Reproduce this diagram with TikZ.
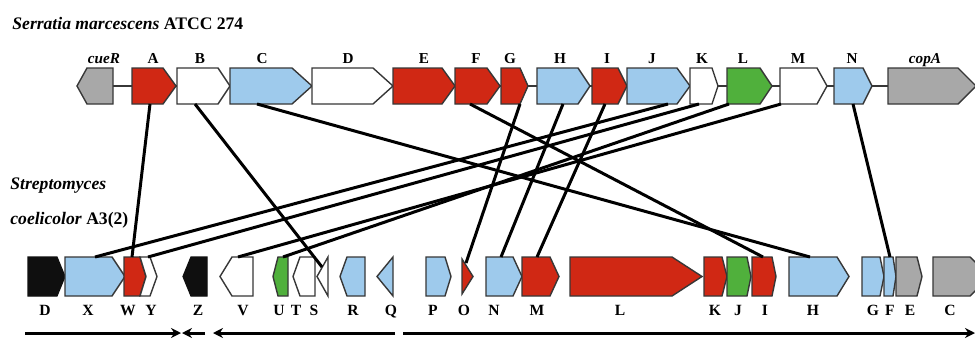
\documentclass[tikz,border=0pt]{standalone}
\usepackage{fontspec}
\setmainfont{Liberation Serif}
\usetikzlibrary{arrows.meta}
\definecolor{gred}{RGB}{208,40,20}
\definecolor{gblue}{RGB}{158,202,236}
\definecolor{ggreen}{RGB}{80,176,60}
\definecolor{ggray}{RGB}{168,168,168}
\definecolor{gblack}{RGB}{15,15,15}
\definecolor{gedge}{RGB}{55,55,55}
\tikzset{
  genebox/.style={draw=gedge, line width=0.7pt, line join=miter},
  link/.style={line width=1.5pt, draw=black},
  backbone/.style={draw=gedge, line width=0.6pt},
  glabel/.style={font=\fontsize{7.6}{9}\selectfont\bfseries, inner sep=0pt, text height=5.1pt, text depth=0pt},
  blabel/.style={font=\fontsize{7.8}{9}\selectfont\bfseries, inner sep=0pt, text height=5.2pt, text depth=0pt},
  title/.style={font=\fontsize{8.8}{10}\selectfont\bfseries, inner sep=0pt, anchor=west},
  dirarrow/.style={line width=1.5pt, draw=black, -{Stealth[length=5pt,width=5pt]}},
}
% right-pointing gene: x1, shoulder, tip, ytop, ybot, fill
\newcommand\geneR[6]{\filldraw[genebox,fill=#6] (#1,#4) -- (#2,#4) -- (#3,{(#4+#5)/2}) -- (#2,#5) -- (#1,#5) -- cycle;}
% left-pointing gene: tip, shoulder, x2, ytop, ybot, fill
\newcommand\geneL[6]{\filldraw[genebox,fill=#6] (#1,{(#4+#5)/2}) -- (#2,#4) -- (#3,#4) -- (#3,#5) -- (#2,#5) -- cycle;}
\begin{document}
\begin{tikzpicture}[x=0.5pt,y=-0.5pt]
\clip (0,0) rectangle (975,338);
\fill[white] (0,0) rectangle (975,338);

% titles
\node[title] (t1) at (12,23) {\textit{Serratia marcescens} ATCC 274};
\node[title] (t2) at (10,186) {\textit{Streptomyces}};
\node[title] (t3) at (10,220) {\textit{coelicolor} A3(2)};

% ---------- top row ----------
\draw[backbone] (113,86) -- (888,86);
\geneL{77}{87}{113}{68}{104}{ggray}
\geneR{132}{163}{176}{68}{104}{gred}
\geneR{177}{218}{230}{68}{104}{white}
\geneR{230}{292}{312}{68}{104}{gblue}
\geneR{312}{373}{393}{68}{104}{white}
\geneR{393}{442}{455}{68}{104}{gred}
\geneR{455}{487}{500}{68}{104}{gred}
\geneR{501}{520}{528}{68}{104}{gred}
\geneR{537}{578}{590}{68}{104}{gblue}
\geneR{592}{618}{627}{68}{104}{gred}
\geneR{627}{677}{690}{68}{104}{gblue}
\geneR{690}{712}{718}{68}{104}{white}
\geneR{727}{760}{772}{68}{104}{ggreen}
\geneR{780}{817}{827}{68}{104}{white}
\geneR{834}{863}{872}{68}{104}{gblue}
\geneR{888}{958}{976}{68}{104}{ggray}

\node[glabel] (lcueR) at (104,58) {\textit{cueR}};
\node[glabel] (lA) at (153,58) {A};
\node[glabel] (lB) at (200,58) {B};
\node[glabel] (lC) at (262,58) {C};
\node[glabel] (lD) at (348,58) {D};
\node[glabel] (lE) at (424,58) {E};
\node[glabel] (lF) at (476,58) {F};
\node[glabel] (lG) at (510,58) {G};
\node[glabel] (lH) at (560,58) {H};
\node[glabel] (lI) at (607,58) {I};
\node[glabel] (lJ) at (652,58) {J};
\node[glabel] (lK) at (702,58) {K};
\node[glabel] (lL) at (743,58) {L};
\node[glabel] (lM) at (798,58) {M};
\node[glabel] (lN) at (852,58) {N};
\node[glabel] (lcopA) at (925,58) {\textit{copA}};

% ---------- bottom row ----------
\filldraw[draw=gblack, fill=gblack, line width=0.6pt] (28,257) -- (57,257) -- (65,276.5) -- (57,296) -- (28,296) -- cycle;
\geneR{65}{112}{125}{257}{296}{gblue}
\geneR{124}{140}{146}{257}{296}{gred}
\filldraw[genebox,fill=white] (140,257) -- (150,257) -- (157,276.5) -- (150,296) -- (140,296) -- (146,276.5) -- cycle;
\filldraw[draw=gblack, fill=gblack, line width=0.6pt] (183,276.5) -- (191,257) -- (207,257) -- (207,296) -- (191,296) -- cycle;
\geneL{220}{232}{253}{257}{296}{white}
\geneL{273}{278}{288}{257}{296}{ggreen}
\geneL{293}{300}{315}{257}{296}{white}
\geneL{317}{328}{328}{257}{296}{white}
\geneL{340}{347}{365}{257}{296}{gblue}
\geneL{377}{393}{393}{257}{296}{gblue}
\geneR{426}{445}{451}{257}{296}{gblue}
\geneR{462}{462}{473}{259}{294}{gred}
\geneR{486}{513}{522}{257}{296}{gblue}
\geneR{522}{550}{559}{257}{296}{gred}
\geneR{570}{672}{702}{257}{296}{gred}
\geneR{704}{722}{727}{257}{296}{gred}
\geneR{727}{747}{751}{257}{296}{ggreen}
\geneR{752}{772}{776}{257}{296}{gred}
\geneR{789}{837}{849}{257}{296}{gblue}
\geneR{862}{880}{884}{257}{296}{gblue}
\geneR{884}{893}{896}{257}{296}{gblue}
\geneR{896}{917}{922}{257}{296}{ggray}
\geneR{933}{970}{990}{257}{296}{ggray}

\node[blabel] (bD) at (45,310) {D};
\node[blabel] (bX) at (88,310) {X};
\node[blabel] (bW) at (128,310) {W};
\node[blabel] (bY) at (151,310) {Y};
\node[blabel] (bZ) at (198,310) {Z};
\node[blabel] (bV) at (243,310) {V};
\node[blabel] (bU) at (279,310) {U};
\node[blabel] (bT) at (296,310) {T};
\node[blabel] (bS) at (314,310) {S};
\node[blabel] (bR) at (353,310) {R};
\node[blabel] (bQ) at (391,310) {Q};
\node[blabel] (bP) at (433,310) {P};
\node[blabel] (bO) at (464,310) {O};
\node[blabel] (bN) at (494,310) {N};
\node[blabel] (bM) at (537,310) {M};
\node[blabel] (bL) at (620,310) {L};
\node[blabel] (bK) at (715,310) {K};
\node[blabel] (bJ) at (738,310) {J};
\node[blabel] (bI) at (765,310) {I};
\node[blabel] (bH) at (813,310) {H};
\node[blabel] (bG) at (873,310) {G};
\node[blabel] (bF) at (890,310) {F};
\node[blabel] (bE) at (910,310) {E};
\node[blabel] (bC) at (950,310) {C};

% ---------- connection points ----------
\coordinate (pA) at (150,104);
\coordinate (pB) at (195,104);
\coordinate (pC) at (257,104);
\coordinate (pF) at (470,104);
\coordinate (pG) at (520,104);
\coordinate (pH) at (563,104);
\coordinate (pI) at (605,104);
\coordinate (pJ) at (668,104);
\coordinate (pK) at (699,104);
\coordinate (pL) at (729,104);
\coordinate (pM) at (781,104);
\coordinate (pN) at (853,104);

\coordinate (qW) at (132,257);
\coordinate (qS) at (322,267);
\coordinate (qH) at (810,257);
\coordinate (qI) at (763,257);
\coordinate (qO) at (466,263);
\coordinate (qN) at (501,257);
\coordinate (qM) at (537,257);
\coordinate (qX) at (95,257);
\coordinate (qY) at (148,257);
\coordinate (qU) at (283,257);
\coordinate (qV) at (238,257);
\coordinate (qF) at (890,257);

\draw[link] (pA) -- (qW);
\draw[link] (pB) -- (qS);
\draw[link] (pC) -- (qH);
\draw[link] (pF) -- (qI);
\draw[link] (pG) -- (qO);
\draw[link] (pH) -- (qN);
\draw[link] (pI) -- (qM);
\draw[link] (pJ) -- (qX);
\draw[link] (pK) -- (qY);
\draw[link] (pL) -- (qU);
\draw[link] (pM) -- (qV);
\draw[link] (pN) -- (qF);

% ---------- transcription direction arrows ----------
\coordinate (a1s) at (25,333);
\coordinate (a1e) at (181,333);
\coordinate (a2s) at (205,333);
\coordinate (a2e) at (182,333);
\coordinate (a3s) at (395,333);
\coordinate (a3e) at (213,333);
\coordinate (a4s) at (403,333);
\coordinate (a4e) at (975,333);
\draw[dirarrow] (a1s) -- (a1e);
\draw[dirarrow] (a2s) -- (a2e);
\draw[dirarrow] (a3s) -- (a3e);
\draw[dirarrow] (a4s) -- (a4e);
\end{tikzpicture}
\end{document}
